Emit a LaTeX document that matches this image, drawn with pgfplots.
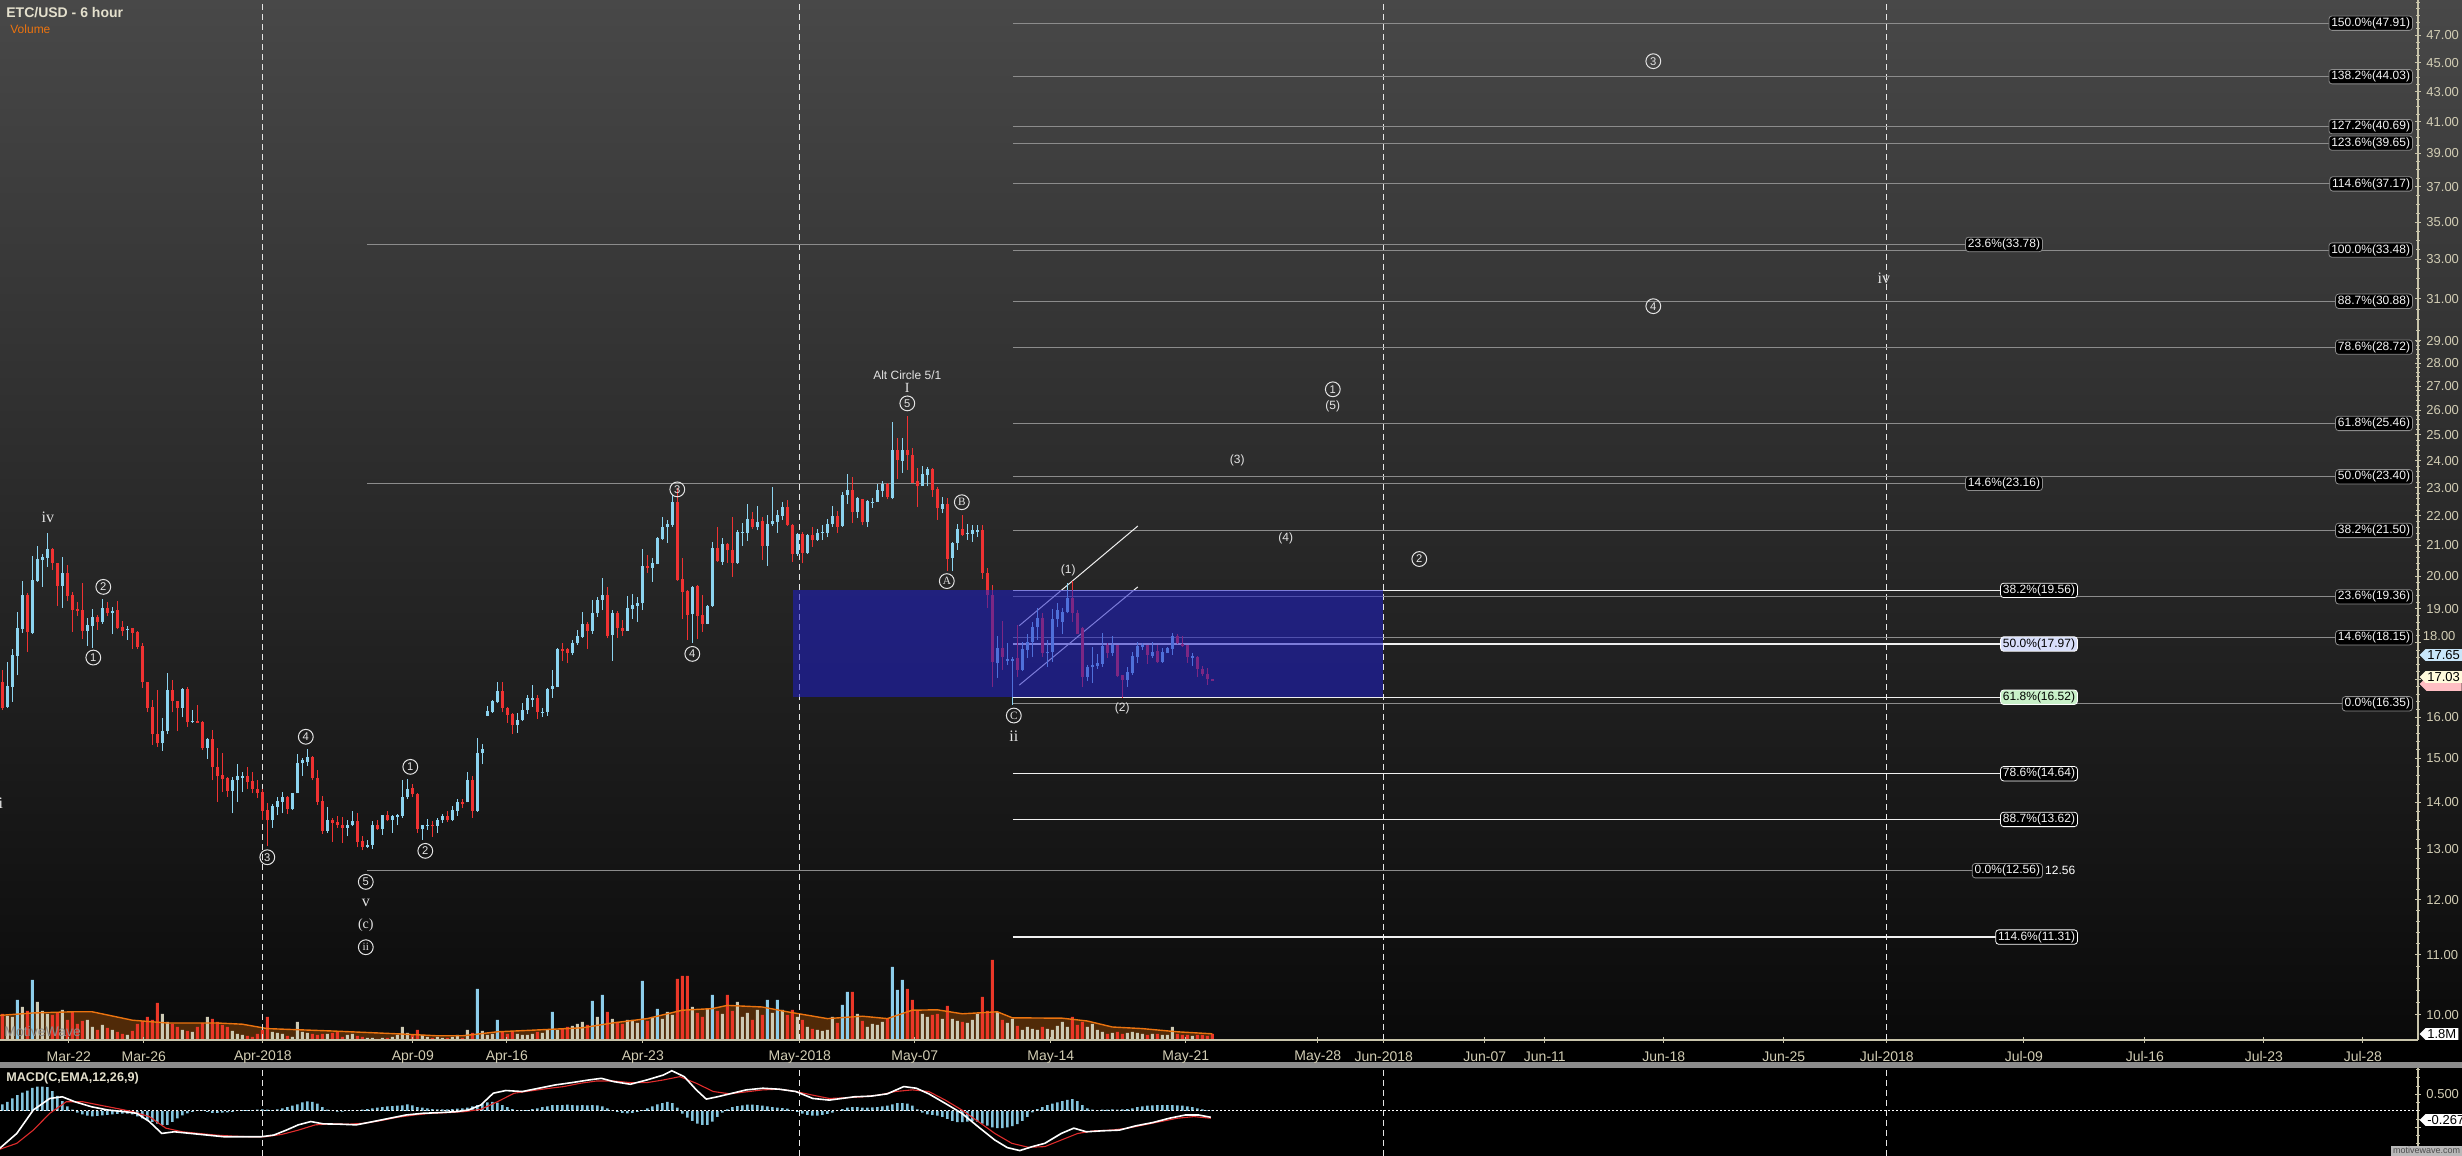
\documentclass[border=0pt]{standalone}
\usepackage{fontspec}
\setmainfont{Liberation Sans}
\newfontfamily\serif{Liberation Serif}
\usepackage{pgfplots}
\pgfplotsset{compat=1.18}
\usepackage{pgfplotstable}
\usetikzlibrary{shapes.symbols}
\newcommand\fs[1]{\fontsize{#1}{#1}\selectfont}
\definecolor{upc}{RGB}{140,212,240}
\definecolor{dnc}{RGB}{240,50,50}
\definecolor{axc}{RGB}{200,196,170}
\definecolor{tkc}{RGB}{210,205,180}
\definecolor{bgtop}{RGB}{72,72,72}
\definecolor{bgmid}{RGB}{28,28,28}
\definecolor{bgbot}{RGB}{10,10,10}
\definecolor{fibg}{RGB}{140,140,140}
\definecolor{fibw}{RGB}{240,240,240}
\definecolor{boxc}{RGB}{30,30,200}
\definecolor{volred}{RGB}{235,55,40}
\definecolor{volbei}{RGB}{205,202,180}
\definecolor{volblu}{RGB}{140,205,235}
\definecolor{volfill}{RGB}{80,42,8}
\definecolor{volline}{RGB}{235,115,15}
\definecolor{histc}{RGB}{130,195,220}
\definecolor{macdr}{RGB}{225,45,45}
\definecolor{sepc}{RGB}{140,140,140}
\definecolor{wavec}{RGB}{228,228,228}
\definecolor{ttc}{RGB}{228,224,205}
\tikzset{
 fl/.style={fill=black, draw=fibg, rounded corners=1.5pt, inner xsep=1.2pt, inner ysep=0.8pt, text=white!92!gray, font=\fs{6}, line width=0.4pt},
 cn/.style={circle, draw=wavec, line width=0.5pt, inner sep=0pt, minimum size=7.4pt, text=wavec, font=\fs{5.6}},
 wl/.style={text=wavec, font=\serif\fs{8}, inner sep=0pt},
 sl/.style={text=wavec, font=\fs{6}, inner sep=0pt},
 dl/.style={draw=white!80!gray, dash pattern=on 3pt off 2pt, line width=0.5pt},
 pl/.style={shape=signal, signal to=west, anchor=west, inner xsep=1pt, inner ysep=0.6pt, font=\fs{6.5}, text=black},
}
\pgfplotsset{candle/.style={only marks, mark=none, mark size=0pt, mark options={draw=none, fill=none}, forget plot,
  error bars/y dir=plus, error bars/y explicit, error bars/error mark=none}}
\pgfplotstableread{
i h l t b c
1 17.25 16.19 16.93 16.24 0
2 17.46 16.24 16.82 16.28 1
3 17.84 16.40 17.66 16.80 1
4 18.89 17.10 18.42 17.63 1
5 19.85 18.30 19.42 18.39 1
6 19.47 17.75 19.42 18.32 0
7 20.66 18.25 19.88 18.29 1
8 20.97 19.83 20.55 19.85 1
9 20.72 19.68 20.63 20.52 1
10 21.41 20.30 20.88 20.60 1
11 20.91 20.20 20.88 20.41 0
12 20.43 19.09 20.41 19.71 0
13 20.61 19.03 20.11 19.71 1
14 20.36 19.25 20.11 19.40 0
15 19.52 18.32 19.42 18.96 0
16 19.20 18.79 18.99 18.94 0
17 19.78 18.10 18.96 18.35 0
18 18.71 17.92 18.52 18.35 1
19 18.99 17.86 18.76 18.50 1
20 18.81 18.37 18.76 18.61 0
21 19.30 18.56 19.03 18.61 1
22 19.20 18.79 19.03 18.86 0
23 19.06 18.25 18.94 18.86 1
24 19.22 18.40 18.96 18.42 0
25 18.63 18.20 18.47 18.35 0
26 18.49 18.08 18.41 18.37 1
27 18.44 17.82 18.42 18.29 0
28 18.35 17.82 18.32 17.89 0
29 18.01 16.77 17.92 16.91 0
30 16.93 16.13 16.92 16.25 0
31 16.45 15.33 16.28 15.58 0
32 16.71 15.28 15.58 15.36 0
33 15.98 15.18 15.67 15.36 1
34 17.16 15.58 16.71 15.65 1
35 16.98 16.13 16.71 16.42 0
36 16.42 15.65 16.42 16.24 0
37 16.76 16.00 16.74 16.24 1
38 16.80 15.77 16.74 15.88 0
39 16.20 15.86 15.92 15.88 1
40 16.32 15.86 15.92 15.87 0
41 15.90 15.20 15.88 15.24 0
42 15.48 14.98 15.47 15.24 1
43 15.69 14.49 15.47 14.79 0
44 15.24 14.01 14.80 14.58 0
45 15.12 14.22 14.61 14.51 0
46 14.57 14.12 14.54 14.25 0
47 14.57 13.75 14.49 14.25 1
48 14.86 14.01 14.58 14.49 1
49 14.68 14.22 14.58 14.55 1
50 14.79 14.30 14.58 14.45 0
51 14.68 14.19 14.47 14.28 0
52 14.49 14.08 14.29 14.21 0
53 14.30 13.61 14.23 13.81 0
54 13.97 13.05 13.82 13.60 0
55 13.96 13.44 13.91 13.60 1
56 14.12 13.71 14.03 13.90 1
57 14.23 13.75 14.10 14.01 1
58 14.13 13.73 14.10 13.84 0
59 14.19 13.82 14.19 13.84 1
60 15.10 14.19 14.88 14.19 1
61 15.02 14.59 14.96 14.88 1
62 15.22 14.83 15.04 14.92 1
63 15.06 14.49 15.04 14.53 0
64 14.72 13.94 14.53 14.01 0
65 14.13 13.31 14.02 13.37 0
66 13.88 13.33 13.61 13.37 1
67 13.65 13.15 13.61 13.55 0
68 13.69 13.44 13.56 13.49 0
69 13.67 13.12 13.50 13.44 0
70 13.61 13.26 13.50 13.44 1
71 13.80 13.47 13.59 13.49 1
72 13.75 13.03 13.59 13.15 0
73 13.27 12.97 13.17 13.04 0
74 13.19 13.02 13.08 13.04 1
75 13.59 13.00 13.50 13.08 1
76 13.61 13.39 13.50 13.41 0
77 13.71 13.29 13.71 13.41 1
78 13.80 13.58 13.71 13.60 0
79 13.71 13.33 13.69 13.61 1
80 13.74 13.49 13.71 13.68 1
81 14.49 13.66 14.12 13.69 1
82 14.51 14.06 14.30 14.10 1
83 14.41 14.10 14.32 14.17 0
84 14.19 13.33 14.17 13.41 0
85 13.50 13.19 13.49 13.41 1
86 13.63 13.40 13.50 13.47 1
87 13.58 13.25 13.50 13.47 0
88 13.65 13.33 13.61 13.48 1
89 13.74 13.54 13.70 13.60 1
90 13.80 13.56 13.70 13.60 0
91 13.91 13.58 13.82 13.61 1
92 14.06 13.70 14.01 13.81 1
93 14.06 13.86 14.01 13.95 0
94 14.68 13.99 14.49 13.99 1
95 14.58 13.66 14.49 13.81 0
96 15.48 13.79 15.13 13.81 1
97 15.35 14.86 15.22 15.12 1
98 16.29 16.03 16.17 16.05 1
99 16.45 16.11 16.42 16.15 1
100 16.92 16.36 16.68 16.39 1
101 16.92 16.13 16.68 16.24 0
102 16.28 15.86 16.25 16.07 0
103 16.11 15.58 16.08 15.80 0
104 16.11 15.62 15.94 15.80 1
105 16.38 15.90 16.20 15.93 1
106 16.57 16.08 16.50 16.18 1
107 16.84 16.28 16.50 16.45 1
108 16.57 15.96 16.50 16.14 0
109 16.24 16.01 16.15 16.11 1
110 16.76 16.04 16.74 16.14 1
111 17.25 16.51 16.82 16.73 1
112 17.86 16.78 17.82 16.80 1
113 17.99 17.50 17.82 17.77 0
114 17.86 17.43 17.84 17.71 0
115 18.08 17.65 17.99 17.71 1
116 18.37 17.94 18.19 17.99 1
117 18.89 18.15 18.54 18.17 1
118 18.60 17.84 18.54 18.35 0
119 19.27 18.27 18.86 18.34 1
120 19.37 18.76 19.27 18.86 1
121 19.96 18.96 19.42 19.27 1
122 19.66 18.13 19.42 18.20 0
123 18.96 17.50 18.88 18.22 1
124 18.94 18.15 18.88 18.42 0
125 18.66 18.20 18.44 18.35 0
126 19.39 18.35 19.01 18.35 1
127 19.44 18.69 19.11 18.99 1
128 19.37 18.61 19.18 19.09 1
129 20.88 18.96 20.33 19.16 1
130 20.69 20.11 20.33 20.27 0
131 20.58 19.83 20.43 20.27 1
132 21.29 20.38 21.24 20.39 1
133 21.97 21.18 21.63 21.21 1
134 21.86 21.07 21.72 21.60 1
135 22.74 21.63 22.48 21.69 1
136 22.98 19.86 22.48 19.88 0
137 20.58 18.69 19.91 19.52 0
138 19.57 18.08 19.55 18.81 0
139 19.71 17.99 19.68 18.83 1
140 19.73 18.10 19.70 18.79 0
141 19.42 18.32 18.81 18.56 0
142 19.11 18.54 19.09 18.56 1
143 21.12 19.06 20.91 19.08 1
144 21.63 20.47 20.91 20.50 0
145 21.24 20.36 21.04 20.47 1
146 21.09 20.43 21.04 20.83 0
147 21.95 19.98 20.85 20.43 0
148 21.52 20.39 21.44 20.43 1
149 21.75 20.99 21.46 21.41 1
150 22.41 21.15 21.88 21.43 1
151 22.15 21.54 21.88 21.61 0
152 22.35 21.50 21.80 21.61 1
153 21.97 20.52 21.82 20.99 0
154 22.03 20.33 21.72 20.99 1
155 23.01 21.66 21.82 21.71 1
156 22.21 21.43 22.03 21.80 1
157 22.48 21.86 22.30 21.99 1
158 22.56 21.66 22.30 21.69 0
159 21.72 20.47 21.69 20.72 0
160 21.43 20.65 21.38 20.72 1
161 21.46 20.41 21.38 20.74 0
162 21.38 20.71 21.35 20.74 1
163 21.63 20.96 21.35 21.18 0
164 21.55 21.15 21.41 21.18 1
165 21.67 21.17 21.46 21.41 1
166 21.88 21.27 21.72 21.43 1
167 22.35 21.63 22.00 21.71 1
168 22.17 21.43 22.00 21.63 0
169 22.84 21.63 22.74 21.66 1
170 23.51 22.42 22.93 22.72 1
171 23.38 21.75 22.93 22.13 0
172 22.66 21.92 22.62 22.13 1
173 22.58 21.67 22.58 21.78 0
174 22.56 21.63 22.54 21.78 1
175 22.62 22.29 22.50 22.47 1
176 23.14 22.50 22.93 22.50 1
177 23.23 22.68 23.14 22.90 1
178 23.17 22.58 23.14 22.66 0
179 25.50 22.58 24.41 22.63 1
180 24.87 23.31 24.41 24.03 0
181 24.87 23.55 24.41 24.00 1
182 25.76 23.67 24.41 24.22 0
183 24.48 23.17 24.22 23.19 0
184 23.71 22.32 23.23 23.05 0
185 23.80 23.05 23.51 23.07 1
186 23.75 23.05 23.68 23.47 1
187 23.71 22.68 23.68 22.93 0
188 23.01 21.86 22.95 22.26 0
189 22.66 22.09 22.42 22.24 1
190 22.62 20.18 22.42 20.55 0
191 21.12 20.15 21.09 20.58 1
192 21.72 20.85 21.54 21.07 1
193 22.03 21.32 21.54 21.35 0
194 21.72 21.18 21.43 21.38 1
195 21.67 21.12 21.50 21.38 1
196 21.67 21.29 21.52 21.46 1
197 21.69 19.91 21.52 20.11 0
198 20.25 19.01 20.11 19.42 0
199 19.73 16.80 19.42 17.48 0
200 18.19 17.03 17.86 17.43 1
201 18.64 17.25 17.86 17.61 0
202 18.01 17.39 17.55 17.49 1
203 17.61 16.32 17.55 17.49 1
204 18.51 17.07 17.57 17.25 0
205 18.03 17.21 17.82 17.25 1
206 18.27 17.57 18.02 17.81 1
207 18.61 17.61 18.47 18.02 1
208 19.03 18.08 18.73 18.45 1
209 18.86 17.60 18.73 17.71 0
210 18.08 17.34 17.75 17.71 1
211 18.98 17.48 18.68 17.73 1
212 19.18 18.47 18.96 18.68 1
213 19.01 18.25 18.89 18.61 1
214 19.80 18.86 19.32 18.89 1
215 19.85 18.61 19.32 18.86 0
216 18.96 18.27 18.86 18.27 0
217 18.47 16.78 18.42 17.07 0
218 17.38 16.96 17.34 17.07 1
219 17.89 16.89 17.38 17.32 1
220 17.68 17.27 17.43 17.36 1
221 18.30 17.34 17.91 17.41 1
222 17.99 17.57 17.94 17.71 0
223 18.19 17.64 17.94 17.71 1
224 17.94 17.07 17.94 17.09 0
225 17.12 16.51 17.12 16.98 0
226 17.32 16.80 17.18 16.98 1
227 17.73 17.12 17.63 17.16 1
228 18.03 17.43 17.91 17.61 1
229 17.99 17.80 17.94 17.89 1
230 17.94 17.41 17.94 17.66 0
231 18.03 17.57 17.75 17.63 1
232 17.94 17.45 17.77 17.48 0
233 17.86 17.45 17.75 17.48 1
234 17.89 17.71 17.86 17.72 1
235 18.30 17.66 18.19 17.84 1
236 18.25 17.96 18.19 17.99 0
237 18.19 17.89 17.96 17.91 0
238 17.94 17.45 17.94 17.60 0
239 17.71 17.36 17.63 17.59 1
240 17.63 17.05 17.61 17.27 0
241 17.37 17.09 17.27 17.14 0
242 17.29 16.84 17.14 17.00 0
243 17.00 16.96 17.00 16.96 0
}\candles
\pgfplotstableread{
i v c
1 6.75 0
2 6.25 1
3 6.0 1
4 10.25 2
5 8.5 1
6 7.5 0
7 15.25 2
8 9.75 1
9 7.5 1
10 6.75 1
11 6.5 0
12 7.0 0
13 7.75 1
14 5.25 0
15 7.25 0
16 4.25 0
17 5.0 0
18 5.25 1
19 3.5 1
20 2.75 0
21 4.0 1
22 3.25 0
23 2.75 1
24 2.25 0
25 1.75 0
26 1.5 1
27 2.5 0
28 4.25 0
29 5.0 0
30 6.0 0
31 5.25 0
32 9.5 0
33 6.75 1
34 4.75 1
35 4.25 0
36 3.5 0
37 2.75 1
38 2.5 0
39 2.25 1
40 3.5 0
41 4.5 0
42 6.0 1
43 5.5 0
44 4.75 0
45 4.0 0
46 3.5 0
47 2.5 1
48 1.75 1
49 1.5 1
50 1.25 0
51 1.0 0
52 1.75 0
53 2.75 0
54 6.0 0
55 2.25 1
56 2.0 1
57 1.75 1
58 1.25 0
59 1.0 1
60 4.75 1
61 2.25 1
62 2.0 1
63 1.75 0
64 1.5 0
65 1.75 0
66 1.75 1
67 2.0 0
68 2.25 0
69 1.0 0
70 1.5 1
71 1.75 1
72 1.25 0
73 1.0 0
74 0.75 1
75 0.75 1
76 0.5 0
77 0.75 1
78 0.75 0
79 1.0 1
80 1.5 1
81 3.5 1
82 2.0 1
83 1.5 0
84 2.75 0
85 1.5 1
86 1.0 1
87 0.75 0
88 1.0 1
89 0.75 1
90 0.75 0
91 1.0 1
92 1.5 1
93 0.75 0
94 2.75 1
95 2.0 0
96 13.0 2
97 2.5 1
98 1.5 1
99 1.75 1
100 5.25 2
101 2.25 0
102 1.75 0
103 2.25 0
104 1.75 1
105 1.5 1
106 1.5 1
107 1.75 1
108 2.25 0
109 2.0 1
110 2.75 1
111 7.25 2
112 2.75 1
113 3.0 0
114 3.5 0
115 3.75 1
116 4.25 1
117 4.75 1
118 4.0 0
119 10.0 2
120 6.0 1
121 11.5 2
122 7.25 0
123 5.5 1
124 4.75 0
125 4.25 0
126 5.25 1
127 5.25 1
128 4.5 1
129 15.0 2
130 5.0 0
131 6.0 1
132 8.0 2
133 5.5 1
134 7.25 1
135 6.5 1
136 15.5 0
137 16.25 0
138 16.25 0
139 8.5 1
140 7.0 0
141 6.0 0
142 8.0 1
143 11.5 2
144 7.5 0
145 6.75 1
146 11.5 0
147 7.5 0
148 9.75 1
149 6.0 1
150 7.0 1
151 5.25 0
152 7.75 1
153 6.5 0
154 10.25 2
155 7.0 1
156 10.25 2
157 7.75 1
158 6.5 0
159 7.75 0
160 6.0 1
161 5.25 0
162 3.5 1
163 3.0 0
164 2.75 1
165 2.5 1
166 2.75 1
167 6.0 1
168 4.5 0
169 9.0 2
170 12.25 2
171 12.25 0
172 6.75 1
173 5.0 0
174 3.5 1
175 4.25 1
176 4.0 1
177 4.75 1
178 5.5 0
179 18.5 2
180 12.75 2
181 15.25 2
182 13.0 0
183 10.25 0
184 7.5 0
185 6.75 1
186 6.0 1
187 6.5 0
188 6.75 0
189 5.5 1
190 8.75 0
191 5.5 1
192 5.0 1
193 4.75 0
194 4.5 1
195 5.25 1
196 6.75 1
197 11.0 0
198 7.5 0
199 20.25 0
200 7.25 1
201 5.25 0
202 4.5 1
203 5.5 1
204 3.75 0
205 2.75 1
206 3.5 1
207 3.0 1
208 2.75 1
209 3.5 0
210 3.0 1
211 2.75 1
212 3.75 1
213 4.75 1
214 3.5 1
215 6.0 0
216 4.0 0
217 4.75 0
218 3.5 1
219 4.25 1
220 2.75 1
221 2.25 1
222 1.75 0
223 2.0 1
224 2.25 0
225 1.75 0
226 2.0 1
227 2.25 1
228 2.0 1
229 1.75 1
230 1.5 0
231 1.75 1
232 1.75 0
233 1.5 1
234 1.5 1
235 3.5 1
236 1.75 0
237 1.5 0
238 1.5 0
239 1.25 1
240 1.5 0
241 1.5 0
242 1.25 0
243 1.75 0
}\vol
\pgfplotstableread{
i v
0.5 6.4
7 7.0
15 7.3
19 7.3
27 5.2
34 4.5
44 4.5
49 4.2
54 3.1
67 2.5
80 1.8
88 1.3
93 1.3
100 2.3
107 2.7
117 3.3
123 4.5
130 5.6
137 7.7
143 8.1
146 8.9
153 8.5
158 7.3
166 5.6
173 6.2
178 5.6
183 7.7
188 7.8
193 6.8
200 7.3
203 5.8
213 5.7
218 5.0
223 3.5
229 3.1
236 2.3
243 1.8
}\volma
\pgfplotstableread{
i h
1 0.20
2 0.28
3 0.38
4 0.48
5 0.56
6 0.62
7 0.70
8 0.74
9 0.74
10 0.72
11 0.60
12 0.46
13 0.30
14 0.14
15 0.04
16 -0.05
17 -0.10
18 -0.14
19 -0.16
20 -0.15
21 -0.13
22 -0.12
23 -0.10
24 -0.09
25 -0.08
26 -0.08
27 -0.10
28 -0.16
29 -0.22
30 -0.28
31 -0.33
32 -0.38
33 -0.42
34 -0.42
35 -0.33
36 -0.22
37 -0.13
38 -0.07
39 -0.03
40 0.03
41 0.02
42 -0.03
43 -0.06
44 -0.06
45 -0.05
46 -0.04
47 -0.03
48 0.02
49 0.03
50 0.03
51 0.03
52 0.04
53 0.05
54 0.04
55 0.03
56 0.05
57 0.08
58 0.12
59 0.16
60 0.20
61 0.26
62 0.29
63 0.28
64 0.22
65 0.12
66 0.04
67 0.01
68 -0.02
69 -0.02
70 0.01
71 0.02
72 0.03
73 0.04
74 0.06
75 0.08
76 0.10
77 0.12
78 0.14
79 0.15
80 0.16
81 0.17
82 0.20
83 0.17
84 0.12
85 0.10
86 0.08
87 0.06
88 0.05
89 0.05
90 0.05
91 0.06
92 0.07
93 0.08
94 0.10
95 0.14
96 0.18
97 0.22
98 0.26
99 0.28
100 0.25
101 0.18
102 0.12
103 0.06
104 0.03
105 0.02
106 0.03
107 0.06
108 0.08
109 0.12
110 0.14
111 0.18
112 0.18
113 0.18
114 0.19
115 0.18
116 0.17
117 0.18
118 0.17
119 0.18
120 0.17
121 0.14
122 0.08
123 0.02
124 -0.03
125 -0.06
126 -0.07
127 -0.06
128 -0.03
129 0.03
130 0.08
131 0.14
132 0.20
133 0.24
134 0.28
135 0.24
136 0.10
137 -0.08
138 -0.20
139 -0.30
140 -0.38
141 -0.42
142 -0.42
143 -0.32
144 -0.18
145 -0.05
146 0.05
147 0.12
148 0.15
149 0.17
150 0.19
151 0.19
152 0.18
153 0.16
154 0.14
155 0.12
156 0.10
157 0.09
158 0.07
159 0.03
160 -0.03
161 -0.08
162 -0.12
163 -0.14
164 -0.14
165 -0.12
166 -0.09
167 -0.05
168 0.01
169 0.06
170 0.10
171 0.12
172 0.12
173 0.10
174 0.10
175 0.11
176 0.12
177 0.14
178 0.16
179 0.20
180 0.24
181 0.24
182 0.22
183 0.16
184 0.05
185 -0.05
186 -0.10
187 -0.12
188 -0.14
189 -0.18
190 -0.24
191 -0.30
192 -0.34
193 -0.34
194 -0.32
195 -0.30
196 -0.32
197 -0.38
198 -0.44
199 -0.50
200 -0.52
201 -0.52
202 -0.50
203 -0.46
204 -0.40
205 -0.30
206 -0.18
207 -0.04
208 0.06
209 0.12
210 0.18
211 0.22
212 0.26
213 0.30
214 0.34
215 0.36
216 0.30
217 0.18
218 0.08
219 0.04
220 0.03
221 0.04
222 0.04
223 0.05
224 0.04
225 0.05
226 0.06
227 0.08
228 0.12
229 0.14
230 0.16
231 0.17
232 0.18
233 0.18
234 0.18
235 0.18
236 0.17
237 0.16
238 0.14
239 0.12
240 0.08
241 0.05
242 0.02
243 0.02
}\hist
\begin{document}
\begin{tikzpicture}
\useasboundingbox (0,0) rectangle (1231pt,578pt);
\fill[black] (0,0) rectangle (1231pt,578pt);
\shade[top color=bgtop, middle color=bgmid, bottom color=bgbot] (0,58pt) rectangle (1231pt,578pt);
\fill[sepc] (0,44pt) rectangle (1231pt,47pt);

% ---------------- volume ----------------
\begin{axis}[at={(0pt,57.5pt)}, anchor=south west, scale only axis, width=1209pt, height=50pt,
  xmin=0.54, xmax=484.14, ymin=0, ymax=25, hide axis, clip=false]
\addplot[fill=volfill, draw=none] table[x=i,y=v]{\volma} \closedcycle;
\addplot[ybar, bar width=0.62, bar shift=0pt, fill=volred, draw=none, restrict expr to domain={\thisrow{c}}{-0.5:0.5}] table[x=i,y=v]{\vol};
\addplot[ybar, bar width=0.62, bar shift=0pt, fill=volbei, draw=none, restrict expr to domain={\thisrow{c}}{0.5:1.5}] table[x=i,y=v]{\vol};
\addplot[ybar, bar width=0.62, bar shift=0pt, fill=volblu, draw=none, restrict expr to domain={\thisrow{c}}{1.5:2.5}] table[x=i,y=v]{\vol};
\addplot[draw=volline, line width=0.7pt] table[x=i,y=v]{\volma};
\end{axis}

% ---------------- price ----------------
\begin{axis}[at={(0pt,58pt)}, anchor=south west, scale only axis, width=1209pt, height=520pt,
  xmin=0.54, xmax=484.14, ymode=log, ymin=9.613, ymax=49.70, clip=false,
  axis x line*=bottom, axis y line*=right, axis line style={draw=axc, line width=0.6pt},
  tick style={draw=axc, line width=0.5pt}, tick align=center, major tick length=3pt, minor tick length=1.6pt,
  xtick={14.3,29.3,53.1,83.1,101.9,129.1,160.5,183.5,210.7,237.7,264.1,277.3,297.5,309.5,333.3,357.3,377.9,405.3,429.5,453.3,473.1},
  xticklabels={Mar-22,Mar-26,Apr-2018,Apr-09,Apr-16,Apr-23,May-2018,May-07,May-14,May-21,May-28,Jun-2018,Jun-07,Jun-11,Jun-18,Jun-25,Jul-2018,Jul-09,Jul-16,Jul-23,Jul-28},
  xticklabel style={font=\fs{7}, text=tkc, anchor=center, yshift=-7pt},
  ytick={10,11,12,13,14,15,16,17,18,19,20,21,22,23,24,25,26,27,28,29,31,33,35,37,39,41,43,45,47},
  yticklabels={10.00,11.00,12.00,13.00,14.00,15.00,16.00,,,19.00,20.00,21.00,22.00,23.00,24.00,25.00,26.00,27.00,28.00,29.00,31.00,33.00,35.00,37.00,39.00,41.00,43.00,45.00,47.00},
  minor ytick={10,10.2,...,29,29.5,30,...,49.5},
  yticklabel style={font=\fs{6.5}, text=tkc, anchor=west, inner sep=0pt, xshift=2.5pt}]
% date separators
\draw[dl] (axis cs:53.1,9.613) -- (axis cs:53.1,49.7);
\draw[dl] (axis cs:160.5,9.613) -- (axis cs:160.5,49.7);
\draw[dl] (axis cs:277.3,9.613) -- (axis cs:277.3,49.7);
\draw[dl] (axis cs:377.9,9.613) -- (axis cs:377.9,49.7);
% fib set 1 (gray)
\draw[fibg, line width=0.5pt] (axis cs:203.1,47.91) -- (axis cs:483.1,47.91);
\draw[fibg, line width=0.5pt] (axis cs:203.1,44.03) -- (axis cs:483.1,44.03);
\draw[fibg, line width=0.5pt] (axis cs:203.1,40.69) -- (axis cs:483.1,40.69);
\draw[fibg, line width=0.5pt] (axis cs:203.1,39.65) -- (axis cs:483.1,39.65);
\draw[fibg, line width=0.5pt] (axis cs:203.1,37.17) -- (axis cs:483.1,37.17);
\draw[fibg, line width=0.5pt] (axis cs:203.1,33.48) -- (axis cs:483.1,33.48);
\draw[fibg, line width=0.5pt] (axis cs:203.1,30.88) -- (axis cs:483.1,30.88);
\draw[fibg, line width=0.5pt] (axis cs:203.1,28.72) -- (axis cs:483.1,28.72);
\draw[fibg, line width=0.5pt] (axis cs:203.1,25.46) -- (axis cs:483.1,25.46);
\draw[fibg, line width=0.5pt] (axis cs:203.1,23.40) -- (axis cs:483.1,23.40);
\draw[fibg, line width=0.5pt] (axis cs:203.1,21.50) -- (axis cs:483.1,21.50);
\draw[fibg, line width=0.5pt] (axis cs:203.1,19.36) -- (axis cs:483.1,19.36);
\draw[fibg, line width=0.5pt] (axis cs:203.1,18.15) -- (axis cs:483.1,18.15);
\draw[fibg, line width=0.5pt] (axis cs:203.1,16.35) -- (axis cs:483.1,16.35);
% fib set 2 (gray)
\draw[fibg, line width=0.5pt] (axis cs:73.9,33.78) -- (axis cs:409.1,33.78);
\draw[fibg, line width=0.5pt] (axis cs:73.9,23.16) -- (axis cs:409.1,23.16);
\draw[fibg, line width=0.5pt] (axis cs:73.9,12.56) -- (axis cs:409.1,12.56);
% fib set 3 (white)
\draw[fibw, line width=0.6pt] (axis cs:203.1,19.56) -- (axis cs:416.1,19.56);
\draw[fibw, line width=0.6pt] (axis cs:203.1,17.97) -- (axis cs:416.1,17.97);
\draw[fibw, line width=0.6pt] (axis cs:203.1,16.52) -- (axis cs:416.1,16.52);
\draw[fibw, line width=0.6pt] (axis cs:203.1,14.64) -- (axis cs:416.1,14.64);
\draw[fibw, line width=0.6pt] (axis cs:203.1,13.62) -- (axis cs:416.1,13.62);
\draw[fibw, line width=0.6pt] (axis cs:203.1,11.31) -- (axis cs:416.1,11.31);
% channel
\draw[white!88!gray, line width=0.5pt] (axis cs:204.4,18.50) -- (axis cs:228.1,21.65);
\draw[white!88!gray, line width=0.5pt] (axis cs:204.4,16.84) -- (axis cs:228.1,19.67);
% candles
\addplot[candle, restrict expr to domain={\thisrow{c}}{-0.5:0.5}, error bars/error bar style={draw=dnc, line width=0.5pt}]
  table[x=i, y=l, y error expr=\thisrow{h}-\thisrow{l}]{\candles};
\addplot[candle, restrict expr to domain={\thisrow{c}}{-0.5:0.5}, error bars/error bar style={draw=dnc, line width=1.3pt}]
  table[x=i, y=b, y error expr=\thisrow{t}-\thisrow{b}]{\candles};
\addplot[candle, restrict expr to domain={\thisrow{c}}{0.5:1.5}, error bars/error bar style={draw=upc, line width=0.5pt}]
  table[x=i, y=l, y error expr=\thisrow{h}-\thisrow{l}]{\candles};
\addplot[candle, restrict expr to domain={\thisrow{c}}{0.5:1.5}, error bars/error bar style={draw=upc, line width=1.3pt}]
  table[x=i, y=b, y error expr=\thisrow{t}-\thisrow{b}]{\candles};
% zone box
\fill[boxc, fill opacity=0.55] (axis cs:159.1,16.52) rectangle (axis cs:277.1,19.56);
% fib labels set 1
\node[fl, anchor=east] at (axis cs:483.1,47.91) {150.0\%(47.91)};
\node[fl, anchor=east] at (axis cs:483.1,44.03) {138.2\%(44.03)};
\node[fl, anchor=east] at (axis cs:483.1,40.69) {127.2\%(40.69)};
\node[fl, anchor=east] at (axis cs:483.1,39.65) {123.6\%(39.65)};
\node[fl, anchor=east] at (axis cs:483.1,37.17) {114.6\%(37.17)};
\node[fl, anchor=east] at (axis cs:483.1,33.48) {100.0\%(33.48)};
\node[fl, anchor=east] at (axis cs:483.1,30.88) {88.7\%(30.88)};
\node[fl, anchor=east] at (axis cs:483.1,28.72) {78.6\%(28.72)};
\node[fl, anchor=east] at (axis cs:483.1,25.46) {61.8\%(25.46)};
\node[fl, anchor=east] at (axis cs:483.1,23.40) {50.0\%(23.40)};
\node[fl, anchor=east] at (axis cs:483.1,21.50) {38.2\%(21.50)};
\node[fl, anchor=east] at (axis cs:483.1,19.36) {23.6\%(19.36)};
\node[fl, anchor=east] at (axis cs:483.1,18.15) {14.6\%(18.15)};
\node[fl, anchor=east] at (axis cs:483.1,16.35) {0.0\%(16.35)};
% set 2
\node[fl, anchor=east] at (axis cs:409.1,33.78) {23.6\%(33.78)};
\node[fl, anchor=east] at (axis cs:409.1,23.16) {14.6\%(23.16)};
\node[fl, anchor=east] at (axis cs:409.1,12.56) {0.0\%(12.56)};
\node[anchor=west, text=white, font=\fs{6}, inner sep=0pt, xshift=1pt] at (axis cs:409.1,12.56) {12.56};
% set 3
\node[fl, draw=white, anchor=east] at (axis cs:416.1,19.56) {38.2\%(19.56)};
\node[fl, draw=white, fill={rgb,255:red,215;green,222;blue,250}, text=black, anchor=east] at (axis cs:416.1,17.97) {50.0\%(17.97)};
\node[fl, draw=white, fill={rgb,255:red,200;green,240;blue,200}, text=black, anchor=east] at (axis cs:416.1,16.52) {61.8\%(16.52)};
\node[fl, draw=white, anchor=east] at (axis cs:416.1,14.64) {78.6\%(14.64)};
\node[fl, draw=white, anchor=east] at (axis cs:416.1,13.62) {88.7\%(13.62)};
\node[fl, draw=white, anchor=east] at (axis cs:416.1,11.31) {114.6\%(11.31)};
% wave labels
\node[wl] at (axis cs:0.7,13.98) {i};
\node[wl] at (axis cs:10.1,21.94) {iv};
\node[cn] at (axis cs:19.2,17.59) {1};
\node[cn] at (axis cs:21.2,19.67) {2};
\node[cn] at (axis cs:54.0,12.83) {3};
\node[cn] at (axis cs:61.7,15.52) {4};
\node[cn] at (axis cs:82.6,14.80) {1};
\node[cn] at (axis cs:85.6,12.96) {2};
\node[cn] at (axis cs:73.7,12.34) {5};
\node[wl] at (axis cs:73.7,11.94) {v};
\node[wl, font=\serif\fs{7}] at (axis cs:73.7,11.53) {(c)};
\node[cn, font=\serif\fs{5.6}] at (axis cs:73.7,11.13) {ii};
\node[cn] at (axis cs:136.0,22.94) {3};
\node[cn] at (axis cs:139.0,17.69) {4};
\node[sl] at (axis cs:182,27.49) {Alt Circle 5/1};
\node[wl, font=\serif\fs{7}] at (axis cs:182,26.93) {I};
\node[cn] at (axis cs:182,26.28) {5};
\node[cn, font=\serif\fs{5.6}] at (axis cs:192.9,22.48) {B};
\node[cn, font=\serif\fs{5.6}] at (axis cs:189.9,19.85) {A};
\node[sl] at (axis cs:214.2,20.17) {(1)};
\node[cn, font=\serif\fs{5.6}] at (axis cs:203.3,16.05) {C};
\node[wl] at (axis cs:203.3,15.54) {ii};
\node[sl] at (axis cs:225,16.23) {(2)};
\node[sl] at (axis cs:248,24.03) {(3)};
\node[sl] at (axis cs:257.7,21.22) {(4)};
\node[cn] at (axis cs:267.1,26.87) {1};
\node[sl] at (axis cs:267.1,26.14) {(5)};
\node[cn] at (axis cs:284.4,20.55) {2};
\node[cn] at (axis cs:331.2,45.12) {3};
\node[cn] at (axis cs:331.2,30.64) {4};
\node[wl] at (axis cs:377.3,32.04) {iv};
\end{axis}

% ---------------- MACD ----------------
\begin{axis}[at={(0pt,0pt)}, anchor=south west, scale only axis, width=1209pt, height=44pt,
  xmin=0.54, xmax=484.14, ymin=-1.364, ymax=1.303, clip=false,
  axis x line=none, axis y line*=right, axis line style={draw=axc, line width=0.6pt},
  tick style={draw=axc, line width=0.5pt}, tick align=center, major tick length=3pt, minor tick length=1.6pt,
  ytick={-0.5,0.5}, yticklabels={,0.500}, minor ytick={-1.25,-1,-0.75,-0.25,0,0.25,0.75,1,1.25},
  yticklabel style={font=\fs{6.5}, text=tkc, anchor=west, inner sep=0pt, xshift=2.5pt}]
\draw[dl] (axis cs:53.1,-1.364) -- (axis cs:53.1,1.303);
\draw[dl] (axis cs:160.5,-1.364) -- (axis cs:160.5,1.303);
\draw[dl] (axis cs:277.3,-1.364) -- (axis cs:277.3,1.303);
\draw[dl] (axis cs:377.9,-1.364) -- (axis cs:377.9,1.303);
\addplot[ybar, bar width=0.5, bar shift=0pt, fill=histc, draw=none] table[x=i,y=h]{\hist};
\draw[white, dash pattern=on 1pt off 1pt, line width=0.5pt] (axis cs:0.54,0) -- (axis cs:484.14,0);
\addplot[macdr, line width=0.55pt] coordinates {(0.5,-1.16) (3.9,-0.98) (7.2,-0.58) (10.5,-0.07) (13.8,0.28) (17.1,0.28) (20.4,0.18) (23.8,0.08) (27.1,-0.02) (30.4,-0.17) (33.7,-0.52) (37.0,-0.63) (40.3,-0.68) (43.7,-0.73) (47.0,-0.76) (50.3,-0.78) (53.6,-0.78) (56.9,-0.71) (60.2,-0.58) (63.6,-0.42) (66.9,-0.39) (70.2,-0.40) (73.5,-0.37) (76.8,-0.29) (80.1,-0.19) (83.5,-0.12) (86.8,-0.07) (90.1,-0.05) (93.4,-0.02) (96.7,0.05) (100.0,0.28) (103.4,0.54) (106.7,0.61) (110.0,0.68) (113.3,0.74) (116.6,0.84) (119.9,0.91) (123.3,0.91) (126.6,0.86) (129.9,0.86) (133.2,0.94) (136.5,1.04) (139.8,0.84) (143.2,0.59) (146.5,0.52) (149.8,0.58) (153.1,0.64) (156.4,0.66) (159.7,0.59) (163.1,0.48) (166.4,0.38) (169.7,0.40) (173.0,0.43) (176.3,0.48) (179.6,0.59) (183.0,0.64) (186.3,0.59) (189.6,0.33) (192.9,0.03) (196.2,-0.32) (199.5,-0.68) (202.9,-0.98) (206.2,-1.10) (209.5,-1.08) (212.8,-0.88) (216.1,-0.68) (219.4,-0.60) (222.8,-0.58) (226.1,-0.52) (229.4,-0.42) (232.7,-0.32) (236.0,-0.22) (239.3,-0.17) (242.7,-0.22)};
\addplot[white, line width=0.8pt] coordinates {(0.5,-1.13) (3.9,-0.68) (7.2,0.03) (10.5,0.38) (13.0,0.43) (15.5,0.28) (18.8,0.13) (22.1,0.03) (25.4,-0.02) (27.9,-0.07) (30.4,-0.32) (32.9,-0.68) (35.4,-0.63) (38.7,-0.68) (42.0,-0.73) (45.3,-0.78) (48.6,-0.78) (52.8,-0.78) (55.3,-0.73) (57.8,-0.58) (60.2,-0.42) (62.7,-0.32) (65.2,-0.39) (68.5,-0.40) (71.8,-0.42) (75.2,-0.32) (78.5,-0.22) (81.8,-0.12) (85.1,-0.07) (88.4,-0.05) (91.8,-0.02) (94.2,0.03) (96.7,0.18) (99.2,0.54) (101.7,0.62) (105.0,0.59) (108.3,0.69) (111.6,0.79) (114.9,0.86) (118.3,0.94) (120.8,0.99) (123.3,0.89) (126.6,0.81) (129.9,0.94) (133.2,1.09) (134.9,1.22) (137.4,1.04) (139.8,0.64) (141.8,0.36) (144.0,0.43) (146.5,0.52) (149.8,0.64) (153.1,0.69) (156.4,0.66) (159.7,0.59) (163.1,0.38) (166.4,0.33) (168.9,0.38) (171.4,0.43) (174.7,0.45) (178.0,0.52) (181.3,0.74) (183.8,0.69) (186.3,0.52) (189.6,0.23) (192.9,-0.07) (196.2,-0.48) (199.5,-0.88) (202.0,-1.11) (204.5,-1.20) (207.0,-1.08) (209.5,-0.98) (212.8,-0.68) (215.3,-0.52) (217.8,-0.63) (221.1,-0.60) (224.4,-0.58) (227.7,-0.45) (231.1,-0.35) (234.4,-0.22) (237.7,-0.12) (240.2,-0.12) (242.7,-0.19)};
\end{axis}

% ---------------- texts & price tags ----------------
\node[anchor=west, text=ttc, font=\bfseries\fs{7}, inner sep=0pt] at (3pt,571.5pt) {ETC/USD - 6 hour};
\node[anchor=west, text=volline, font=\fs{6}, inner sep=0pt] at (5pt,563.5pt) {Volume};
\node[anchor=west, text=ttc, font=\bfseries\fs{6.3}, inner sep=0pt] at (3pt,39pt) {MACD(C,EMA,12,26,9)};
\node[anchor=west, text=white!55!black, font=\fs{7}, inner sep=0pt] at (2pt,62.5pt) {MotiveWave};
\node[anchor=south east, fill=white!72!black, text=white!30!black, font=\fs{4.5}, inner sep=0.8pt] at (1231pt,0pt) {motivewave.com};
\node[anchor=west, text=tkc, font=\fs{6.5}, inner sep=0pt] at (1211.25pt,260pt) {18.00};
\node[pl, fill={rgb,255:red,200;green,230;blue,250}] at (1209.5pt,250.5pt) {17.65};
\node[pl, fill={rgb,255:red,255;green,190;blue,195}, minimum height=7pt, minimum width=21pt] at (1209.5pt,236pt) {};
\node[pl, fill={rgb,255:red,255;green,250;blue,220}] at (1209.5pt,239.5pt) {17.03};
\node[pl, fill=white] at (1209.5pt,61pt) {1.8M};
\node[pl, fill=white] at (1209.5pt,18pt) {-0.267};
\end{tikzpicture}
\end{document}
